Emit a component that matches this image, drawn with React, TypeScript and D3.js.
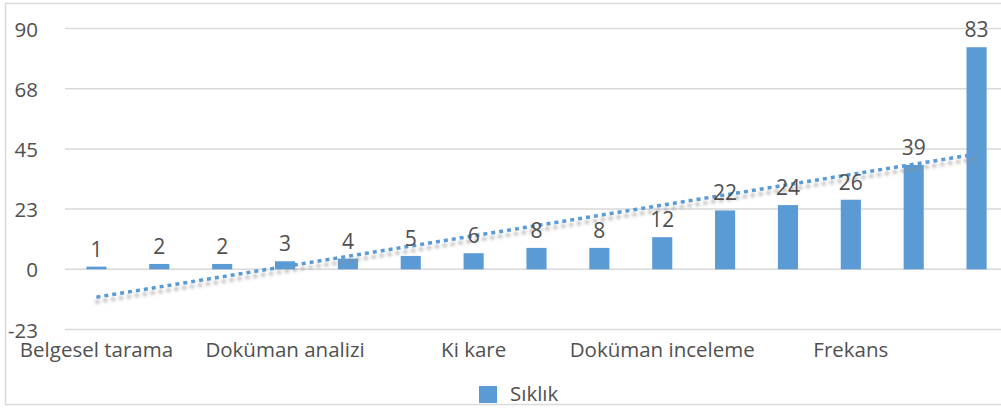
import React from "react";
import * as d3 from "d3";

const categories = [
  "Belgesel tarama",
  "Meta analiz",
  "Söylem analizi",
  "Doküman analizi",
  "Korelasyon",
  "t-testi",
  "Ki kare",
  "Betimsel analiz",
  "Tematik analiz",
  "Doküman inceleme",
  "Aritmetik ortalama",
  "Yüzde",
  "Frekans",
  "Betimsel istatistik",
  "İçerik analizi",
];
const values = [1, 2, 2, 3, 4, 5, 6, 8, 8, 12, 22, 24, 26, 39, 83];
const yTicks = [-22.5, 0, 22.5, 45, 67.5, 90];
const shownLabelIdx = [0, 3, 6, 9, 12];
const seriesName = "Sıklık";

const W = 1001;
const H = 408;
const FONT = "'Open Sans', 'Noto Sans', sans-serif";
const TEXT = "#505050";
const GRID = "#D9D9D9";
const BAR = "#5B9BD5";

export default function App() {
  const x = d3
    .scaleBand<number>()
    .domain(values.map((_, i) => i))
    .range([65, 1008])
    .paddingInner(0.68)
    .paddingOuter(0.34);
  const y = d3.scaleLinear().domain([-22.5, 90]).range([329.5, 28.5]);

  // linear trendline (least squares on index 1..n)
  const n = values.length;
  const xs = values.map((_, i) => i + 1);
  const mx = d3.mean(xs)!;
  const my = d3.mean(values)!;
  const sxy = d3.sum(xs, (xi, i) => (xi - mx) * (values[i] - my));
  const sxx = d3.sum(xs, (xi) => (xi - mx) * (xi - mx));
  const slope = sxy / sxx;
  const icpt = my - slope * mx;
  const cx = (i: number) => x(i)! + x.bandwidth() / 2;
  const trendPts: [number, number][] = [
    [cx(0), y(icpt + slope * 1)],
    [cx(n - 1), y(icpt + slope * n)],
  ];
  const line = d3.line();

  return (
    <svg
      width={W}
      height={H}
      style={{ position: "absolute", left: 0, top: 0, background: "#fff" }}
      fontFamily={FONT}
    >
      <defs>
        <filter id="blur" x="-10%" y="-200%" width="120%" height="500%">
          <feGaussianBlur stdDeviation="1.6" />
        </filter>
      </defs>
      <rect x={0} y={0} width={W} height={H} fill="#fff" />
      <rect
        x={5.5}
        y={3.5}
        width={1020}
        height={401}
        fill="none"
        stroke={GRID}
        strokeWidth={1.5}
      />
      {yTicks.map((t) => (
        <g key={t}>
          <line
            x1={65}
            x2={1010}
            y1={y(t)}
            y2={y(t)}
            stroke={GRID}
            strokeWidth={1.5}
          />
          <text
            x={38}
            y={y(t)}
            textAnchor="end"
            dominantBaseline="central"
            fontSize={20.5}
            fill={TEXT}
          >
            {t.toFixed(0)}
          </text>
        </g>
      ))}
      {values.map((v, i) => (
        <rect
          key={i}
          x={x(i)}
          y={y(Math.max(0, v))}
          width={x.bandwidth()}
          height={Math.abs(y(v) - y(0))}
          fill={BAR}
        />
      ))}
      <path
        d={line(trendPts.map(([a, b]) => [a - 1, b + 5]))!}
        stroke="#8a8a8a"
        strokeOpacity={0.6}
        strokeWidth={3.5}
        strokeDasharray="4 4"
        fill="none"
        filter="url(#blur)"
      />
      <path
        d={line(trendPts)!}
        stroke={BAR}
        strokeWidth={3.5}
        strokeDasharray="4 4"
        fill="none"
      />
      {values.map((v, i) => (
        <text
          key={i}
          x={cx(i)}
          y={y(v) - 10}
          textAnchor="middle"
          fontSize={21}
          fill={TEXT}
        >
          {v}
        </text>
      ))}
      {shownLabelIdx.map((i) => (
        <text
          key={i}
          x={cx(i)}
          y={357}
          textAnchor="middle"
          fontSize={20.5}
          fill={TEXT}
        >
          {categories[i]}
        </text>
      ))}
      <rect x={479} y={386} width={18} height={17} fill={BAR} />
      <text x={510} y={401} fontSize={20.5} fill={TEXT}>
        {seriesName}
      </text>
    </svg>
  );
}
